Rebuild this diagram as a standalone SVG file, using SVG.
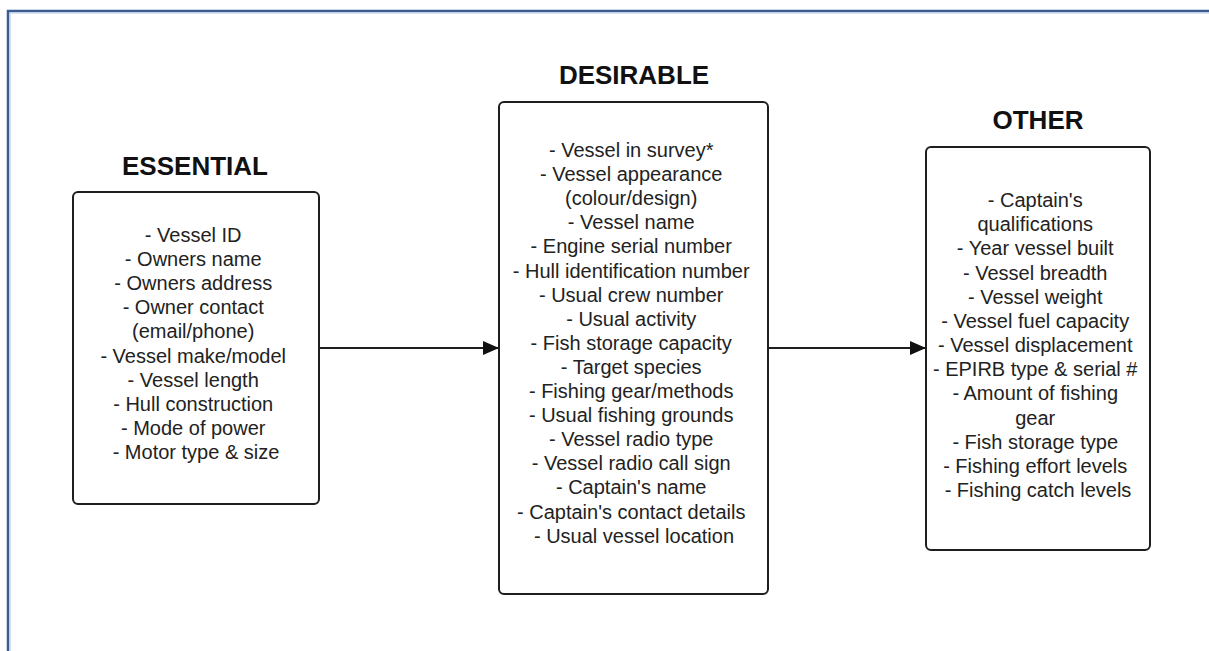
<svg xmlns="http://www.w3.org/2000/svg" width="1209" height="651" viewBox="0 0 1209 651">
<defs>
<style>
.frame{fill:none;stroke:#3b5c92;stroke-width:2.5}
.frame2{fill:none;stroke:#b4c6e4;stroke-width:1}
.box{fill:#fff;stroke:#1e1e1e;stroke-width:2}
.title{font-family:"Liberation Sans",Arial,sans-serif;font-weight:bold;font-size:26px;fill:#111;text-anchor:middle}
.item{font-family:"Liberation Sans",Arial,sans-serif;font-size:20px;fill:#222;text-anchor:middle}
.conn{fill:none;stroke:#1e1e1e;stroke-width:2}
</style>
<marker id="arrow" markerUnits="userSpaceOnUse" markerWidth="16" markerHeight="14" refX="16" refY="7" orient="auto">
<path d="M0,0 L16,7 L0,14 Z" fill="#111"/>
</marker>
</defs>
<rect width="1209" height="651" fill="#fff"/>
<polyline class="frame" points="8,651 8,11 1209,11"/>
<polyline class="frame2" points="10,651 10,13 1209,13"/>

<g id="connectors">
<line class="conn" x1="319" y1="348" x2="499" y2="348" marker-end="url(#arrow)"/>
<line class="conn" x1="768" y1="348" x2="926" y2="348" marker-end="url(#arrow)"/>
</g>

<g id="essential">
<text class="title" x="195" y="175">ESSENTIAL</text>
<rect class="box" x="73" y="192" width="246" height="312" rx="5"/>
<text class="item">
<tspan x="196" y="242">- Vessel ID</tspan>
<tspan x="196" dy="24.1">- Owners name</tspan>
<tspan x="196" dy="24.1">- Owners address</tspan>
<tspan x="196" dy="24.1">- Owner contact</tspan>
<tspan x="196" dy="24.1">(email/phone)</tspan>
<tspan x="196" dy="24.1">- Vessel make/model</tspan>
<tspan x="196" dy="24.1">- Vessel length</tspan>
<tspan x="196" dy="24.1">- Hull construction</tspan>
<tspan x="196" dy="24.1">- Mode of power</tspan>
<tspan x="196" dy="24.1">- Motor type &amp; size</tspan>
</text>
</g>

<g id="desirable">
<text class="title" x="634" y="84">DESIRABLE</text>
<rect class="box" x="499" y="102" width="269" height="492" rx="5"/>
<text class="item">
<tspan x="634" y="157">- Vessel in survey*</tspan>
<tspan x="634" dy="24.1">- Vessel appearance</tspan>
<tspan x="634" dy="24.1">(colour/design)</tspan>
<tspan x="634" dy="24.1">- Vessel name</tspan>
<tspan x="634" dy="24.1">- Engine serial number</tspan>
<tspan x="634" dy="24.1">- Hull identification number</tspan>
<tspan x="634" dy="24.1">- Usual crew number</tspan>
<tspan x="634" dy="24.1">- Usual activity</tspan>
<tspan x="634" dy="24.1">- Fish storage capacity</tspan>
<tspan x="634" dy="24.1">- Target species</tspan>
<tspan x="634" dy="24.1">- Fishing gear/methods</tspan>
<tspan x="634" dy="24.1">- Usual fishing grounds</tspan>
<tspan x="634" dy="24.1">- Vessel radio type</tspan>
<tspan x="634" dy="24.1">- Vessel radio call sign</tspan>
<tspan x="634" dy="24.1">- Captain's name</tspan>
<tspan x="634" dy="24.1">- Captain's contact details</tspan>
<tspan x="634" dy="24.1">- Usual vessel location</tspan>
</text>
</g>

<g id="other">
<text class="title" x="1038" y="129">OTHER</text>
<rect class="box" x="926" y="147" width="224" height="403" rx="5"/>
<text class="item">
<tspan x="1038" y="207">- Captain's</tspan>
<tspan x="1038" dy="24.17">qualifications</tspan>
<tspan x="1038" dy="24.17">- Year vessel built</tspan>
<tspan x="1038" dy="24.17">- Vessel breadth</tspan>
<tspan x="1038" dy="24.17">- Vessel weight</tspan>
<tspan x="1038" dy="24.17">- Vessel fuel capacity</tspan>
<tspan x="1038" dy="24.17">- Vessel displacement</tspan>
<tspan x="1038" dy="24.17">- EPIRB type &amp; serial #</tspan>
<tspan x="1038" dy="24.17">- Amount of fishing</tspan>
<tspan x="1038" dy="24.17">gear</tspan>
<tspan x="1038" dy="24.17">- Fish storage type</tspan>
<tspan x="1038" dy="24.17">- Fishing effort levels</tspan>
<tspan x="1038" dy="24.17">- Fishing catch levels</tspan>
</text>
</g>
</svg>
